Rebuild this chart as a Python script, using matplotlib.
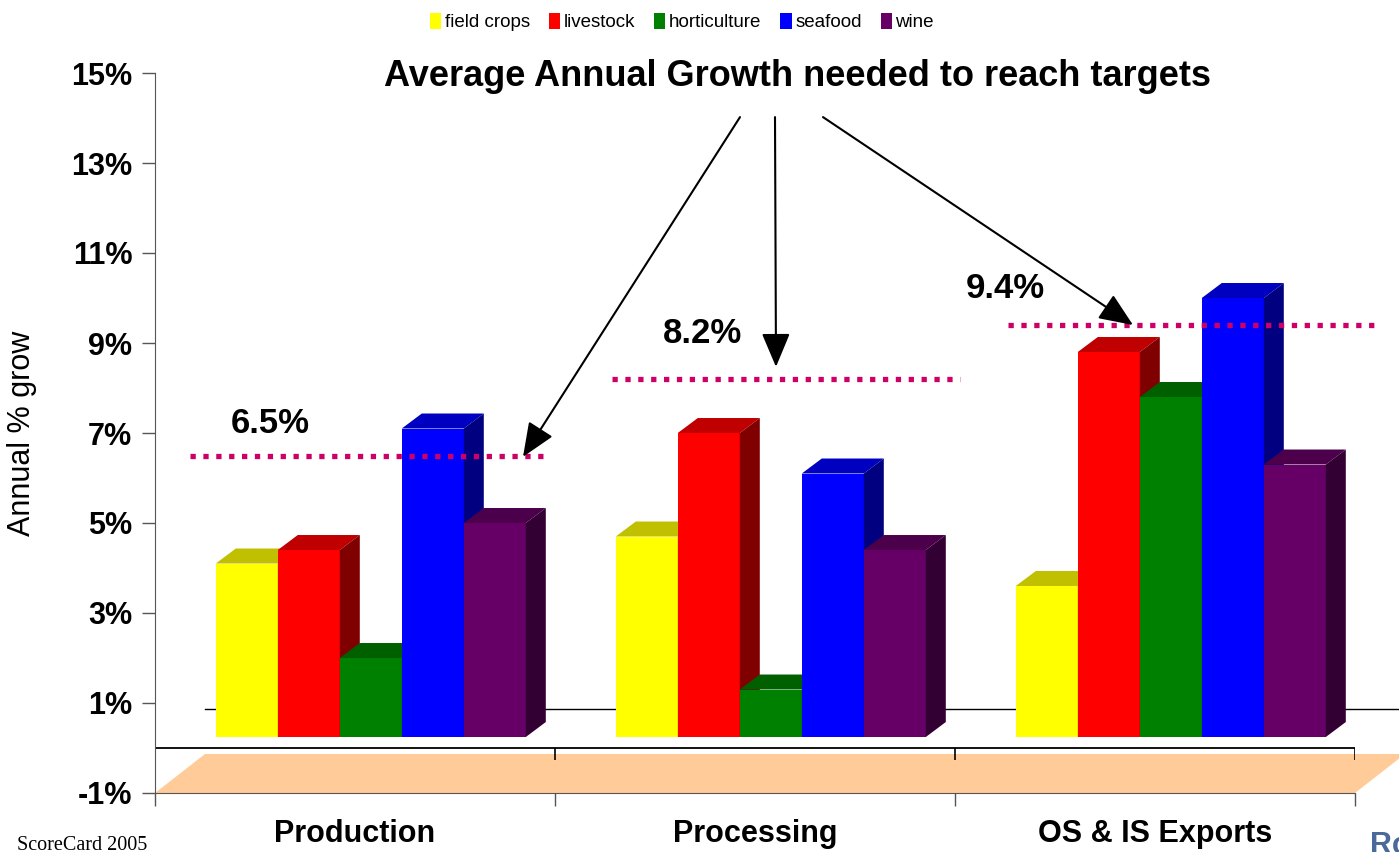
import matplotlib.pyplot as plt
from matplotlib.patches import Polygon, Patch

plt.rcParams['font.family'] = ['Liberation Sans', 'DejaVu Sans']

# --- data ---
groups = ['Production', 'Processing', 'OS & IS Exports']
series = ['field crops', 'livestock', 'horticulture', 'seafood', 'wine']
field_crops = [4.1, 4.7, 3.6]
livestock = [4.4, 7.0, 8.8]
horticulture = [2.0, 1.3, 7.8]
seafood = [7.1, 6.1, 10.0]
wine = [5.0, 4.4, 6.3]
targets = [6.5, 8.2, 9.4]
target_labels = ['6.5%', '8.2%', '9.4%']
yticks = [-1, 1, 3, 5, 7, 9, 11, 13, 15]

values = [field_crops, livestock, horticulture, seafood, wine]
# front, top, side shades
colors = [('#FFFF00', '#C0C000', '#808000'),
          ('#FF0000', '#C00000', '#800000'),
          ('#008000', '#006000', '#004000'),
          ('#0000FF', '#0000C0', '#000080'),
          ('#660066', '#4C004C', '#330033')]

W = 0.155      # bar width
DX = 0.05      # depth offset (x)
DY = 0.333     # depth offset (y)
BASE = 0.244   # front face bottom

fig = plt.figure(figsize=(13.99, 8.52), dpi=100)
ax = fig.add_axes([155 / 1399, 59 / 852, 1200 / 1399, 720 / 852])
ax.set_xlim(-0.5, 2.5)
ax.set_ylim(-1, 15)

# floor
ax.add_patch(Polygon([(-0.5, -1), (2.5, -1), (2.625, -0.133), (-0.375, -0.133)],
                     closed=True, facecolor='#FFCC99', edgecolor='none',
                     clip_on=False, zorder=1))
ax.plot([-0.5, 2.5], [0, 0], color='black', lw=1.3, zorder=2)
ax.vlines([-0.5, 0.5, 1.5, 2.5], -0.27, 0, color='black', lw=1.2, zorder=2)
# back wall line
ax.plot([-0.375, 2.62], [0.867, 0.867], color='black', lw=1.0,
        clip_on=False, zorder=2)

# 3D-looking bars
for i in range(len(groups)):
    for j, vals in enumerate(values):
        v = vals[i]
        x0 = i - 0.348 + j * W
        fc, tc, sc = colors[j]
        z = 3 + j * 0.1 + i
        ax.bar(x0, v - BASE, bottom=BASE, width=W, align='edge',
               color=fc, linewidth=0, zorder=z)
        ax.add_patch(Polygon([(x0, v), (x0 + W, v), (x0 + W + DX, v + DY), (x0 + DX, v + DY)],
                             closed=True, facecolor=tc, edgecolor='none', zorder=z))
        ax.add_patch(Polygon([(x0 + W, BASE), (x0 + W + DX, BASE + DY),
                              (x0 + W + DX, v + DY), (x0 + W, v)],
                             closed=True, facecolor=sc, edgecolor='none', zorder=z))

# target lines
target_x = [(-0.4125, 0.4825), (0.6425, 1.5125), (1.6325, 2.55)]
label_pos = [(-0.2125, 7.22), (0.87, 9.22), (1.625, 10.22)]
for t, (x1, x2), lab, (lx, ly) in zip(targets, target_x, target_labels, label_pos):
    ax.plot([x1, x2], [t, t], color='#CC0066', lw=3.8, linestyle=(0, (1, 1.44)),
            dash_capstyle='butt', clip_on=False, zorder=10)
    ax.text(lx, ly, lab, fontsize=25, fontweight='bold', ha='center', va='center', zorder=11)

# arrows from the heading
arrow_start = [(0.9625, 14.02), (1.05, 14.02), (1.17, 14.02)]
arrow_tip = [(0.42, 6.47), (1.0525, 8.47), (1.945, 9.4)]
for s, e in zip(arrow_start, arrow_tip):
    ax.annotate('', xy=e, xytext=s,
                arrowprops=dict(arrowstyle='-|>,head_length=1.0,head_width=0.42',
                                mutation_scale=21, color='black', lw=1.5,
                                shrinkA=0, shrinkB=0),
                zorder=12, annotation_clip=False)

# axes styling
for side in ['top', 'right']:
    ax.spines[side].set_visible(False)
for side in ['left', 'bottom']:
    ax.spines[side].set_color('#555555')
ax.set_yticks(yticks)
ax.set_yticklabels([f'{t}%' for t in yticks], fontsize=22, fontweight='bold')
ax.tick_params(axis='y', length=9.4, width=1, color='#555555', pad=7)
ax.set_xticks([-0.5, 0.5, 1.5, 2.5])
ax.set_xticklabels([])
ax.tick_params(axis='x', which='major', length=9.4, width=1, color='#555555')
ax.set_xticks([0, 1, 2], minor=True)
ax.set_xticklabels(groups, minor=True, fontsize=22, fontweight='bold')
ax.tick_params(axis='x', which='minor', length=0, pad=19)

fig.text(22 / 1399, 1 - 433 / 852, 'Annual % grow', rotation=90, fontsize=22,
         ha='center', va='center')
fig.text(797 / 1399, 1 - 76 / 852, 'Average Annual Growth needed to reach targets',
         fontsize=26, fontweight='bold', ha='center', va='center')
fig.text(17 / 1399, 1 - 845 / 852, 'ScoreCard 2005', family='Liberation Serif',
         fontsize=14.5, ha='left', va='center')
fig.text(1370 / 1399, 1 - 831 / 852, 'Ro', fontsize=22, fontweight='bold',
         color='#4A6A9A', ha='left', va='top')

handles = [Patch(facecolor=c[0], edgecolor='none') for c in colors]
fig.legend(handles, series, loc='center', bbox_to_anchor=(682 / 1399, 1 - 22 / 852),
           ncol=5, frameon=False, fontsize=13.5, handlelength=0.6, handleheight=1.0,
           handletextpad=0.2, columnspacing=1.0, borderpad=0)

fig.savefig('out.png', dpi=100)
